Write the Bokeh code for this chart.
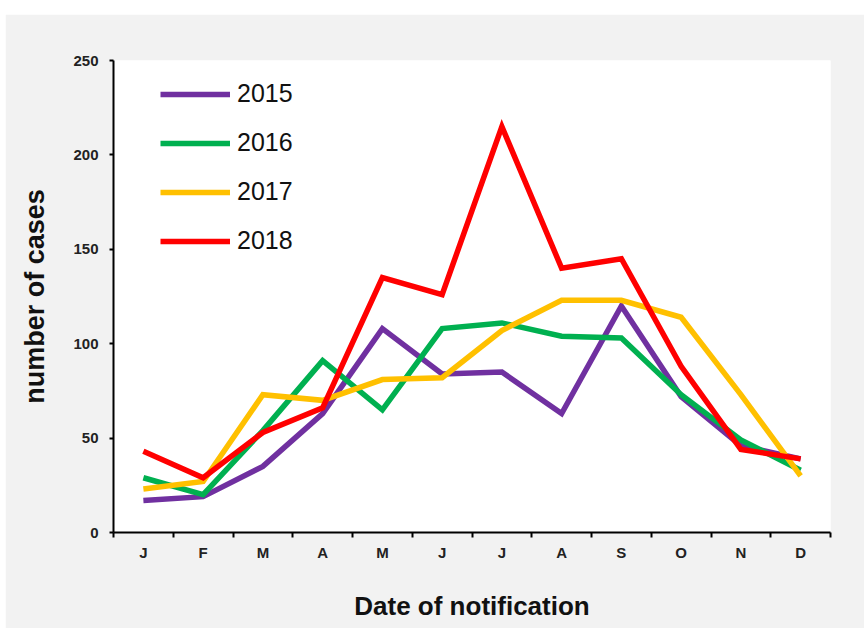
from bokeh.plotting import figure
from bokeh.models import FixedTicker, Range1d, Legend, LegendItem, Spacer
from bokeh.layouts import column, row
from bokeh.embed import file_html
from bokeh.resources import INLINE

months = ["J", "F", "M", "A", "M", "J", "J", "A", "S", "O", "N", "D"]
cases_2015 = [17, 19, 35, 63, 108, 84, 85, 63, 120, 72, 46, 39]
cases_2016 = [29, 20, 54, 91, 65, 108, 111, 104, 103, 73, 49, 33]
cases_2017 = [23, 27, 73, 70, 81, 82, 107, 123, 123, 114, 73, 30]
cases_2018 = [43, 29, 53, 66, 135, 126, 215, 140, 145, 88, 44, 39]
years = ["2015", "2016", "2017", "2018"]
colors = ["#7030A0", "#00B050", "#FFC000", "#FF0000"]
y_ticks = [0, 50, 100, 150, 200, 250]

x_pos = [i + 0.5 for i in range(len(months))]

p = figure(width=859, height=614, output_backend="svg", toolbar_location=None,
           x_range=Range1d(0, 12), y_range=Range1d(0, 250),
           min_border_left=108, min_border_top=46, min_border_right=34, min_border_bottom=96)
p.border_fill_color = "#f2f2f2"
p.background_fill_color = "white"
p.outline_line_color = None
p.xgrid.visible = False
p.ygrid.visible = False

items = []
for yr, vals, col in zip(years, [cases_2015, cases_2016, cases_2017, cases_2018], colors):
    r = p.line(x_pos, vals, line_color=col, line_width=5.5, line_join="miter")
    items.append(LegendItem(label=yr, renderers=[r]))

legend = Legend(items=items, location=(47, 277), orientation="vertical",
                glyph_width=70, glyph_height=20, label_height=20, spacing=20,
                label_standoff=7, padding=0, margin=0,
                background_fill_alpha=0, border_line_color=None,
                label_text_font="Liberation Sans", label_text_font_size="25px",
                label_text_color="#111111")
p.add_layout(legend)

xa = p.xaxis[0]
xa.ticker = FixedTicker(ticks=x_pos, minor_ticks=list(range(13)))
xa.major_label_overrides = {x: m for x, m in zip(x_pos, months)}
xa.major_tick_out = 0
xa.major_tick_in = 0
xa.minor_tick_out = 5
xa.minor_tick_in = 0
xa.minor_tick_line_width = 2
xa.minor_tick_line_color = "black"
xa.axis_line_width = 2
xa.axis_line_color = "black"
xa.major_label_standoff = 6
xa.major_label_text_font = "Liberation Sans"
xa.major_label_text_font_style = "bold"
xa.major_label_text_font_size = "15px"
xa.major_label_text_color = "#222222"
xa.axis_label = "Date of notification"
xa.axis_label_text_font = "Liberation Sans"
xa.axis_label_text_font_style = "bold"
xa.axis_label_text_font_size = "26px"
xa.axis_label_text_color = "#111111"
xa.axis_label_standoff = 27

ya = p.yaxis[0]
ya.ticker = FixedTicker(ticks=y_ticks, minor_ticks=[])
ya.major_tick_out = 4
ya.major_tick_in = 0
ya.major_tick_line_width = 2
ya.axis_line_width = 2
ya.axis_line_color = "black"
ya.major_label_standoff = 11
ya.major_label_text_font = "Liberation Sans"
ya.major_label_text_font_style = "bold"
ya.major_label_text_font_size = "15px"
ya.major_label_text_color = "#222222"
ya.axis_label = "number of cases"
ya.axis_label_text_font = "Liberation Sans"
ya.axis_label_text_font_style = "bold"
ya.axis_label_text_font_size = "27px"
ya.axis_label_text_color = "#111111"
ya.axis_label_standoff = 20

layout = column(Spacer(width=864, height=14), row(Spacer(width=5, height=614), p))
open("out.html", "w").write(file_html(layout, INLINE))
